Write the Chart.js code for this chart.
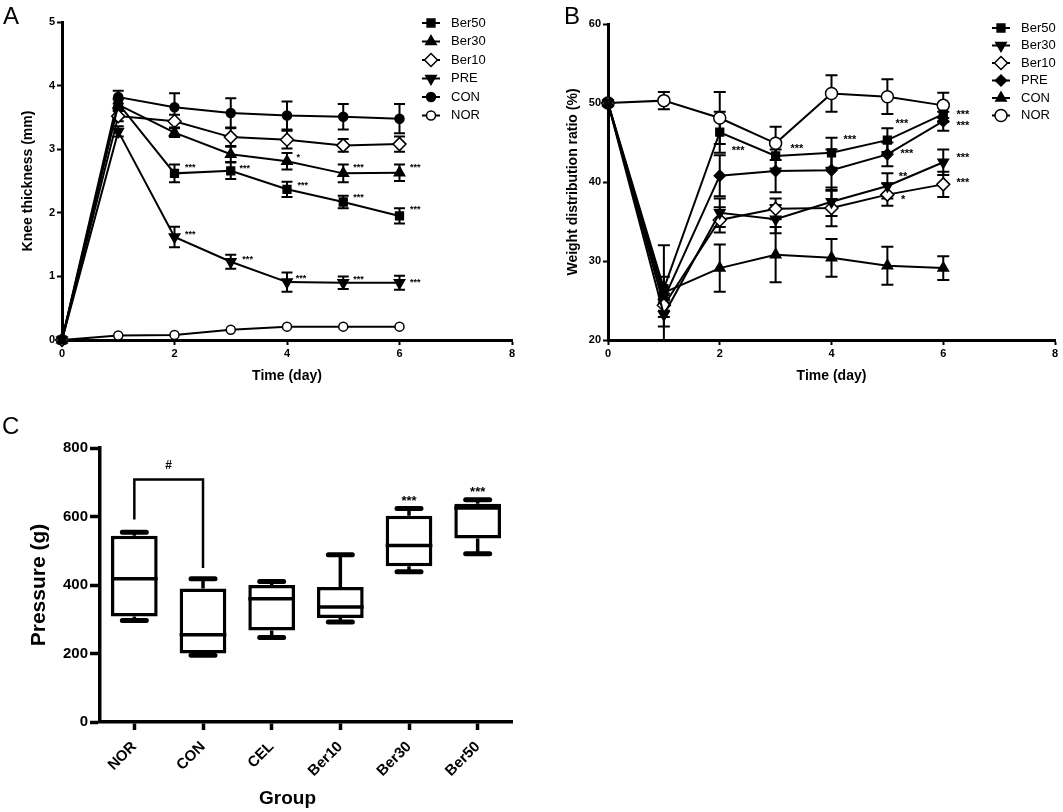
<!DOCTYPE html>
<html>
<head>
<meta charset="utf-8">
<script src="https://cdn.jsdelivr.net/npm/chart.js@4.4.0/dist/chart.umd.min.js"></script>
<style>
  body { margin: 0; background: #fff; }
  #wrap { position: relative; width: 1063px; height: 812px; font-family: 'Liberation Sans', Arial, sans-serif; color: #000; }
  canvas { position: absolute; }
  .letter { position: absolute; font-size: 24px; line-height: 24px; }
  .xtitle { position: absolute; font-size: 19px; font-weight: bold; line-height: 20px; }
</style>
</head>
<body>
<div id="wrap">
  <canvas id="chartA" width="520" height="390" style="left:0;top:0"></canvas>
  <canvas id="chartB" width="533" height="390" style="left:530px;top:0"></canvas>
  <canvas id="chartC" width="530" height="412" style="left:0;top:400px"></canvas>
  <div class="letter" style="left:3px;top:4px">A</div>
  <div class="letter" style="left:564px;top:4px">B</div>
  <div class="letter" style="left:2px;top:414px">C</div>
  <div class="xtitle" style="left:259px;top:788px">Group</div>
</div>
<script>
// --- données panneau A : épaisseur du genou (mm) ---
const days = [0, 1, 2, 3, 4, 5, 6];
const kneeBer50 = [0, 3.72, 2.62, 2.66, 2.37, 2.17, 1.95];
const kneeBer30 = [0, 3.70, 3.26, 2.92, 2.81, 2.62, 2.63];
const kneeBer10 = [0, 3.52, 3.44, 3.19, 3.15, 3.06, 3.08];
const kneePRE   = [0, 3.28, 1.62, 1.23, 0.91, 0.90, 0.90];
const kneeCON   = [0, 3.82, 3.66, 3.57, 3.53, 3.51, 3.48];
const kneeNOR   = [0, 0.07, 0.08, 0.16, 0.21, 0.21, 0.21];
const errKneeBer50 = [0, 0.08, 0.14, 0.13, 0.12, 0.10, 0.12];
const errKneeBer30 = [0, 0.08, 0.07, 0.12, 0.13, 0.14, 0.13];
const errKneeBer10 = [0, 0.08, 0.10, 0.14, 0.14, 0.10, 0.12];
const errKneePRE   = [0, 0.08, 0.16, 0.11, 0.15, 0.10, 0.11];
const errKneeCON   = [0, 0.10, 0.22, 0.23, 0.22, 0.20, 0.23];
const errKneeNOR   = [0, 0, 0, 0, 0, 0, 0];
// étoiles de significativité A : jour, valeur, texte
const starsADay  = [2.28, 2.28, 3.25, 3.3, 4.2, 4.28, 4.25, 5.27, 5.27, 5.27, 6.28, 6.28, 6.28];
const starsAVal  = [2.75, 1.70, 2.74, 1.30, 2.91, 2.47, 1.00, 2.75, 2.28, 0.99, 2.75, 2.09, 0.95];
const starsAText = ['***', '***', '***', '***', '*', '***', '***', '***', '***', '***', '***', '***', '***'];

// --- données panneau B : ratio de distribution du poids (%) ---
const wBer50 = [50, 26.5, 46.3, 43.3, 43.7, 45.3, 48.6];
const wBer30 = [50, 23.2, 36.1, 35.3, 37.5, 39.5, 42.5];
const wBer10 = [50, 24.4, 35.2, 36.6, 36.7, 38.4, 39.7];
const wPRE   = [50, 25.2, 40.8, 41.4, 41.5, 43.5, 47.7];
const wCON   = [50, 26.0, 29.1, 30.8, 30.4, 29.4, 29.1];
const wNOR   = [50, 50.3, 48.1, 44.9, 51.2, 50.8, 49.7];
const errWBer50 = [0, 1.5, 2.6, 1.6, 1.9, 1.5, 1.0];
const errWBer30 = [0, 1.5, 1.8, 1.8, 1.8, 1.6, 1.6];
const errWBer10 = [0, 1.5, 1.6, 1.3, 2.3, 1.4, 1.6];
const errWPRE   = [0, 1.5, 2.6, 2.7, 2.6, 1.5, 1.2];
const errWCON   = [0, 6.0, 3.0, 3.5, 2.4, 2.4, 1.5];
const errWNOR   = [0, 1.1, 3.3, 2.1, 2.3, 2.2, 1.6];
const starsBDay  = [2.33, 3.38, 4.33, 5.26, 5.35, 5.28, 5.28, 6.35, 6.35, 6.35, 6.35];
const starsBVal  = [44.3, 44.6, 45.7, 47.7, 43.9, 41.0, 38.1, 48.9, 47.5, 43.4, 40.3];
const starsBText = ['***', '***', '***', '***', '***', '**', '*', '***', '***', '***', '***'];

// --- données panneau C : pression (g), boîtes à moustaches ---
const groupsC = ['NOR', 'CON', 'CEL', 'Ber10', 'Ber30', 'Ber50'];
const pMin = [296, 195, 247, 292, 439, 491];
const pQ1  = [308, 200, 267, 304, 455, 536];
const pMed = [418, 255, 360, 336, 515, 625];
const pQ3  = [544, 390, 400, 394, 602, 637];
const pMax = [554, 418, 410, 488, 623, 649];
const starsCGroup = ['Ber30', 'Ber50'];
const starsCVal   = [654, 680];
const bracketGroups = ['NOR', 'CON'];
const bracketEnds = [591, 450];
const bracketTop = 708;
const bracketMarkVal = 748;

Chart.defaults.font.family = "'Liberation Sans', Arial, sans-serif";
Chart.defaults.color = '#000';

// barres d'erreur sous les marqueurs
const errorBars = {
    id: 'errorBars',
    beforeDatasetsDraw(chart, args, opts) {
        const ctx = chart.ctx;
        const y = chart.scales.y;
        ctx.save();
        ctx.strokeStyle = '#000';
        ctx.lineWidth = opts.width;
        chart.data.datasets.forEach((ds, di) => {
            const meta = chart.getDatasetMeta(di);
            meta.data.forEach((pt, i) => {
                const e = ds.errors[i];
                if (!e) return;
                const v = ds.data[i].y;
                const top = y.getPixelForValue(v + e);
                const bot = y.getPixelForValue(v - e);
                const h = opts.cap / 2;
                ctx.beginPath();
                ctx.moveTo(pt.x, top); ctx.lineTo(pt.x, bot);
                ctx.moveTo(pt.x - h, top); ctx.lineTo(pt.x + h, top);
                ctx.moveTo(pt.x - h, bot); ctx.lineTo(pt.x + h, bot);
                ctx.stroke();
            });
        });
        ctx.restore();
    }
};

// légende dessinée à la main (ligne + marqueur)
const sideLegend = {
    id: 'sideLegend',
    afterDraw(chart, args, opts) {
        const ctx = chart.ctx;
        ctx.save();
        chart.data.datasets.forEach((ds, i) => {
            const cy = opts.y + i * opts.step;
            ctx.strokeStyle = '#000';
            ctx.lineWidth = 2;
            ctx.beginPath();
            ctx.moveTo(opts.x - 9, cy); ctx.lineTo(opts.x + 9, cy);
            ctx.stroke();
            ctx.fillStyle = ds.pointBackgroundColor;
            ctx.lineWidth = 1.5;
            Chart.helpers.drawPoint(ctx, {
                pointStyle: ds.pointStyle, rotation: ds.pointRotation || 0,
                radius: ds.pointRadius, borderWidth: 1.5
            }, opts.x, cy);
            ctx.fillStyle = '#000';
            ctx.font = '13px "Liberation Sans", Arial, sans-serif';
            ctx.textBaseline = 'middle';
            ctx.textAlign = 'left';
            ctx.fillText(ds.label, opts.textX, cy);
        });
        ctx.restore();
    }
};

// annotations (étoiles) en coordonnées de données
const starLabels = {
    id: 'starLabels',
    afterDatasetsDraw(chart, args, opts) {
        const ctx = chart.ctx;
        ctx.save();
        ctx.fillStyle = '#000';
        ctx.font = 'bold ' + opts.size + 'px "Liberation Sans", Arial, sans-serif';
        ctx.textAlign = 'center';
        ctx.textBaseline = 'alphabetic';
        opts.texts.forEach((t, i) => {
            const px = chart.scales.x.getPixelForValue(opts.xs[i]);
            const py = chart.scales.y.getPixelForValue(opts.ys[i]);
            ctx.fillText(t, px, py + opts.size * 0.55);
        });
        ctx.restore();
    }
};

function series(label, ys, errs, style, fill, radius, rotation) {
    return {
        label: label,
        data: days.map((d, i) => ({ x: d, y: ys[i] })),
        errors: errs,
        borderColor: '#000',
        borderWidth: 2,
        pointStyle: style,
        pointRotation: rotation || 0,
        pointRadius: radius,
        pointHoverRadius: radius,
        pointBackgroundColor: fill,
        pointBorderColor: '#000',
        pointBorderWidth: 1.5,
        tension: 0,
        clip: false
    };
}

function lineOptions(cfg) {
    return {
        responsive: false,
        animation: false,
        devicePixelRatio: 1,
        layout: { padding: { top: cfg.padTop, right: cfg.padRight, left: 0, bottom: 0 } },
        plugins: {
            legend: { display: false },
            tooltip: { enabled: false },
            errorBars: { cap: cfg.cap, width: 2 },
            sideLegend: cfg.legend,
            starLabels: cfg.stars
        },
        scales: {
            x: {
                type: 'linear', min: 0, max: 8,
                ticks: { stepSize: 2, font: { size: 11, weight: 'bold' }, padding: 2 },
                grid: { drawOnChartArea: false, tickLength: 5, tickWidth: 2, tickColor: '#000' },
                border: { width: 3, color: '#000' },
                title: { display: true, text: 'Time (day)', font: { size: 14, weight: 'bold' }, padding: { top: 0, bottom: 5 } },
                afterFit: s => { s.height = 50; }
            },
            y: {
                min: cfg.yMin, max: cfg.yMax,
                ticks: { stepSize: cfg.yStep, font: { size: 11, weight: 'bold' }, padding: 2 },
                grid: { drawOnChartArea: false, tickLength: 5, tickWidth: 2, tickColor: '#000' },
                border: { width: 3, color: '#000' },
                title: { display: true, text: cfg.yTitle, font: { size: 14, weight: 'bold' }, padding: { top: cfg.titlePad, bottom: 0 } },
                afterFit: s => { s.width = cfg.yWidth; }
            }
        }
    };
}

// --- Panneau A ---
new Chart(document.getElementById('chartA'), {
    type: 'line',
    data: {
        datasets: [
            series('Ber50', kneeBer50, errKneeBer50, 'rect', '#000', 5.5),
            series('Ber30', kneeBer30, errKneeBer30, 'triangle', '#000', 6),
            series('Ber10', kneeBer10, errKneeBer10, 'rectRot', '#fff', 6.5),
            series('PRE', kneePRE, errKneePRE, 'triangle', '#000', 6, 180),
            series('CON', kneeCON, errKneeCON, 'circle', '#000', 4.5),
            series('NOR', kneeNOR, errKneeNOR, 'circle', '#fff', 4.5)
        ]
    },
    options: lineOptions({
        padTop: 22, padRight: 8, yWidth: 62, titlePad: 20,
        yMin: 0, yMax: 5, yStep: 1, yTitle: 'Knee thickness (mm)', cap: 11,
        legend: { x: 431, textX: 451, y: 23, step: 18.5 },
        stars: { xs: starsADay, ys: starsAVal, texts: starsAText, size: 9 }
    }),
    plugins: [errorBars, sideLegend, starLabels]
});

// --- Panneau B ---
new Chart(document.getElementById('chartB'), {
    type: 'line',
    data: {
        datasets: [
            series('Ber50', wBer50, errWBer50, 'rect', '#000', 5.5),
            series('Ber30', wBer30, errWBer30, 'triangle', '#000', 6, 180),
            series('Ber10', wBer10, errWBer10, 'rectRot', '#fff', 6.5),
            series('PRE', wPRE, errWPRE, 'rectRot', '#000', 5.5),
            series('CON', wCON, errWCON, 'triangle', '#000', 6),
            series('NOR', wNOR, errWNOR, 'circle', '#fff', 6)
        ]
    },
    options: lineOptions({
        padTop: 24, padRight: 8, yWidth: 78, titlePad: 35,
        yMin: 20, yMax: 60, yStep: 10, yTitle: 'Weight distribution ratio (%)', cap: 12,
        legend: { x: 471, textX: 491, y: 28, step: 17.5 },
        stars: { xs: starsBDay, ys: starsBVal, texts: starsBText, size: 11 }
    }),
    plugins: [errorBars, sideLegend, starLabels]
});

// --- Panneau C : boîtes à moustaches ---
const boxExtras = {
    id: 'boxExtras',
    afterDatasetsDraw(chart) {
        const ctx = chart.ctx;
        const y = chart.scales.y;
        const x = chart.scales.x;
        const bars = chart.getDatasetMeta(0).data;
        ctx.save();
        ctx.strokeStyle = '#000';
        bars.forEach((bar, i) => {
            const half = bar.width / 2;
            // médiane
            ctx.lineWidth = 3.5;
            ctx.lineCap = 'butt';
            ctx.beginPath();
            ctx.moveTo(bar.x - half, y.getPixelForValue(pMed[i]));
            ctx.lineTo(bar.x + half, y.getPixelForValue(pMed[i]));
            ctx.stroke();
            // moustaches
            ctx.beginPath();
            ctx.moveTo(bar.x, y.getPixelForValue(pQ3[i]));
            ctx.lineTo(bar.x, y.getPixelForValue(pMax[i]));
            ctx.moveTo(bar.x, y.getPixelForValue(pQ1[i]));
            ctx.lineTo(bar.x, y.getPixelForValue(pMin[i]));
            ctx.stroke();
            ctx.lineWidth = 5;
            ctx.lineCap = 'round';
            ctx.beginPath();
            ctx.moveTo(bar.x - 12, y.getPixelForValue(pMax[i]));
            ctx.lineTo(bar.x + 12, y.getPixelForValue(pMax[i]));
            ctx.moveTo(bar.x - 12, y.getPixelForValue(pMin[i]));
            ctx.lineTo(bar.x + 12, y.getPixelForValue(pMin[i]));
            ctx.stroke();
        });
        // crochet NOR - CON
        const bx0 = x.getPixelForValue(groupsC.indexOf(bracketGroups[0]));
        const bx1 = x.getPixelForValue(groupsC.indexOf(bracketGroups[1]));
        ctx.lineWidth = 2.5;
        ctx.lineCap = 'butt';
        ctx.beginPath();
        ctx.moveTo(bx0, y.getPixelForValue(bracketEnds[0]));
        ctx.lineTo(bx0, y.getPixelForValue(bracketTop));
        ctx.lineTo(bx1, y.getPixelForValue(bracketTop));
        ctx.lineTo(bx1, y.getPixelForValue(bracketEnds[1]));
        ctx.stroke();
        ctx.fillStyle = '#000';
        ctx.textAlign = 'center';
        ctx.textBaseline = 'middle';
        ctx.font = 'bold 12px "Liberation Sans", Arial, sans-serif';
        ctx.fillText('#', (bx0 + bx1) / 2, y.getPixelForValue(bracketMarkVal));
        ctx.font = 'bold 13px "Liberation Sans", Arial, sans-serif';
        ctx.textBaseline = 'alphabetic';
        starsCGroup.forEach((g, i) => {
            ctx.fillText('***', x.getPixelForValue(groupsC.indexOf(g)), y.getPixelForValue(starsCVal[i]) + 7);
        });
        ctx.restore();
    }
};

new Chart(document.getElementById('chartC'), {
    type: 'bar',
    data: {
        labels: groupsC,
        datasets: [{
            data: groupsC.map((g, i) => [pQ1[i], pQ3[i]]),
            backgroundColor: '#fff',
            borderColor: '#000',
            borderWidth: 3.5,
            borderSkipped: false,
            barPercentage: 0.68,
            categoryPercentage: 1
        }]
    },
    options: {
        responsive: false,
        animation: false,
        devicePixelRatio: 1,
        layout: { padding: { top: 48, right: 18, left: 0, bottom: 0 } },
        plugins: { legend: { display: false }, tooltip: { enabled: false } },
        scales: {
            x: {
                ticks: { font: { size: 15, weight: 'bold' }, maxRotation: 45, minRotation: 45, padding: 8 },
                grid: { offset: false, drawOnChartArea: false, tickLength: 8, tickWidth: 3.5, tickColor: '#000' },
                border: { width: 3.5, color: '#000' },
                afterFit: s => { s.height = 90; }
            },
            y: {
                min: 0, max: 800,
                ticks: { stepSize: 200, font: { size: 15, weight: 'bold' }, padding: 2 },
                grid: { drawOnChartArea: false, tickLength: 10, tickWidth: 3.5, tickColor: '#000' },
                border: { width: 3.5, color: '#000' },
                title: { display: true, text: 'Pressure (g)', font: { size: 21, weight: 'bold' }, padding: { top: 27, bottom: 0 } },
                afterFit: s => { s.width = 100; }
            }
        }
    },
    plugins: [boxExtras]
});
</script>
</body>
</html>
